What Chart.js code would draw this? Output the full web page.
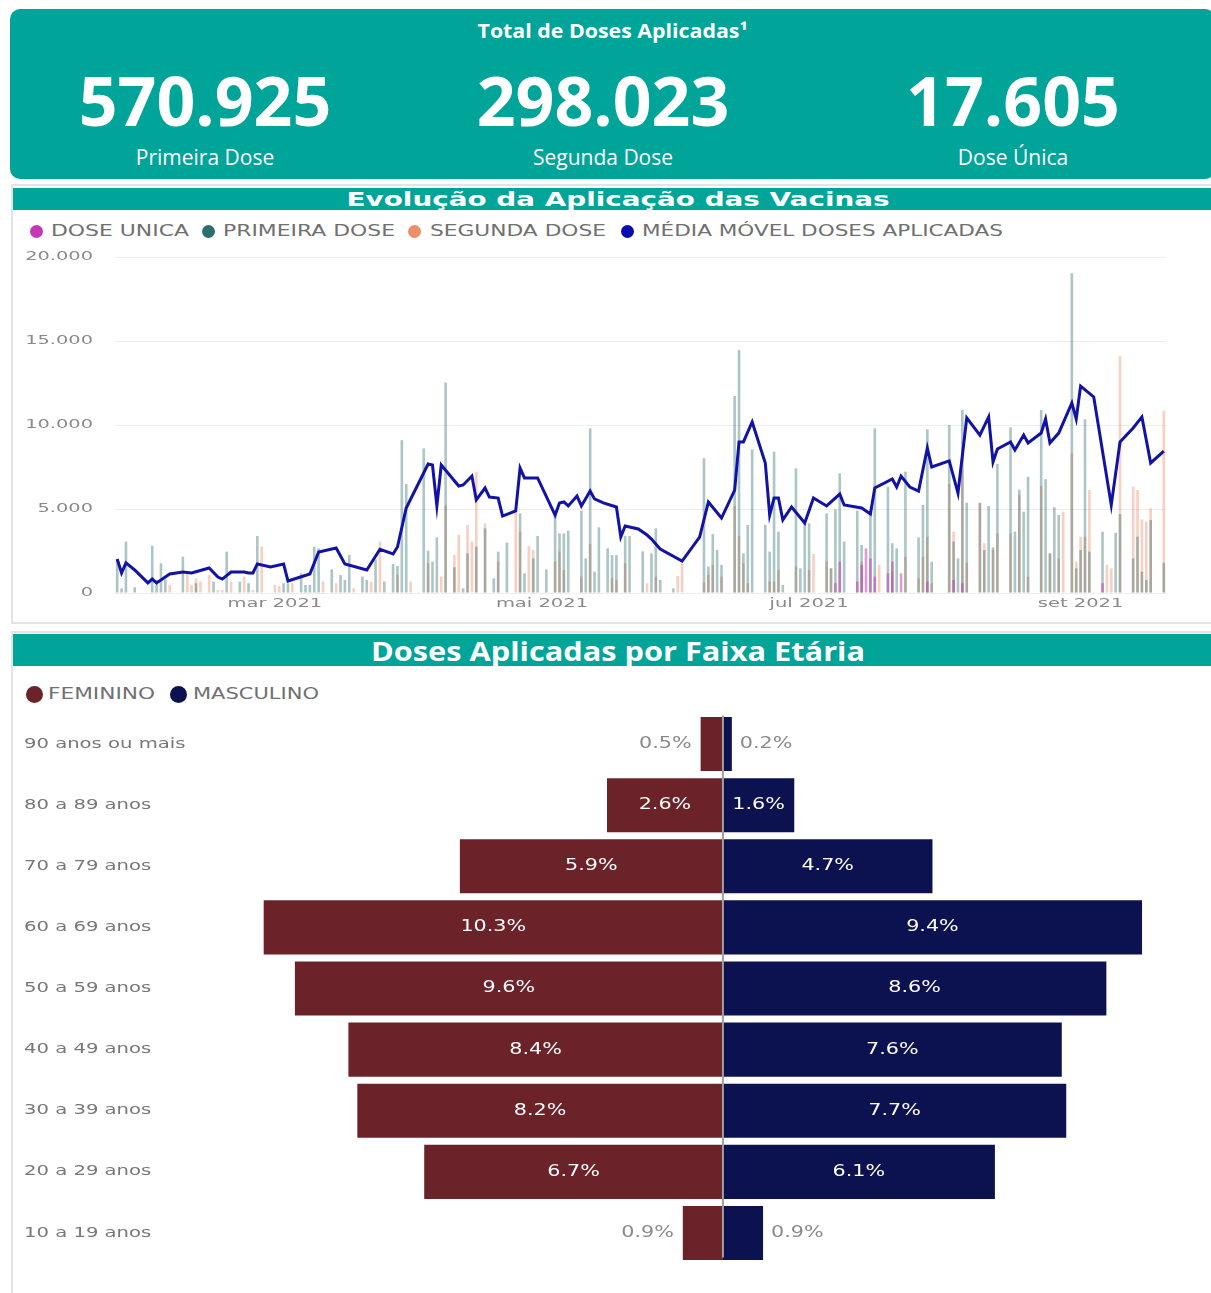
<!DOCTYPE html>
<html>
<head>
<meta charset="utf-8">
<script src="https://cdn.jsdelivr.net/npm/chart.js@4.4.0/dist/chart.umd.min.js"></script>
<style>
  body { margin: 0; width: 1211px; height: 1293px; background: #fff; position: relative; overflow: hidden; font-family: 'Open Sans', sans-serif; }
  .abs { position: absolute; }
  #kpi { left: 10px; top: 9px; width: 1205px; height: 170px; background: #00a499; border-radius: 10px; }
  .kpiTitle { left: 0; width: 100%; top: 11px; text-align: center; color: #fff; font-weight: 700; font-size: 20px; line-height: 22px; }
  .kpiNum { width: 400px; top: 57px; text-align: center; color: #fff; font-weight: 700; font-size: 68px; line-height: 68px; }
  .kpiLbl { width: 400px; top: 135px; text-align: center; color: #fff; font-size: 21px; line-height: 26px; }
  .panel { border: 2px solid #e4e4e4; box-sizing: border-box; }
  .bar { background: #00a499; color: #fff; text-align: center; font-weight: 700; white-space: nowrap; overflow: hidden; }
  .fit { display: inline-block; white-space: nowrap; transform-origin: center center; }
  .leg { font-family: 'DejaVu Sans', sans-serif; color: #707070; white-space: nowrap; transform-origin: left center; }
  .dot { border-radius: 50%; }
  canvas { z-index: 1; }
</style>
</head>
<body>
<div id="kpi" class="abs">
  <div class="abs kpiTitle"><span class="fit" data-w="270">Total de Doses Aplicadas¹</span></div>
  <div class="abs kpiNum" style="left:-5px">570.925</div>
  <div class="abs kpiNum" style="left:393px">298.023</div>
  <div class="abs kpiNum" style="left:803px">17.605</div>
  <div class="abs kpiLbl" style="left:-5px">Primeira Dose</div>
  <div class="abs kpiLbl" style="left:393px">Segunda Dose</div>
  <div class="abs kpiLbl" style="left:803px">Dose Única</div>
</div>

<div class="abs panel" style="left:11px;top:184px;width:1205px;height:440px"></div>
<div class="abs bar" style="left:13px;top:188px;width:1198px;height:22px;line-height:23px;font-family:'DejaVu Sans',sans-serif;font-size:20px;padding-left:12px;box-sizing:border-box"><span class="fit" data-w="543">Evolução da Aplicação das Vacinas</span></div>
<div id="legend1"></div>
<canvas id="evolucao" class="abs" style="left:14px;top:249px" width="1197" height="371"></canvas>

<div class="abs panel" style="left:11px;top:631px;width:1205px;height:670px"></div>
<div class="abs bar" style="left:13px;top:634px;width:1198px;height:32px;line-height:34px;font-size:27px;padding-left:12px;box-sizing:border-box"><span class="fit" data-w="494">Doses Aplicadas por Faixa Etária</span></div>
<div id="legend2"></div>
<canvas id="faixa" class="abs" style="left:14px;top:705px" width="1197" height="565"></canvas>

<script>
// ---- evolution chart data ----
const START_DAY = Date.UTC(2021, 0, 24);
const N_DAYS = 240;
const TICK_DATES = ['2021-03-01', '2021-05-01', '2021-07-01', '2021-09-01'];
const TICK_LABELS = ['mar 2021', 'mai 2021', 'jul 2021', 'set 2021'];

const SERIES_NAMES = ['DOSE UNICA', 'PRIMEIRA DOSE', 'SEGUNDA DOSE', 'MÉDIA MÓVEL DOSES APLICADAS'];
const SERIES_COLORS = ['#c637b4', '#2f6e6e', '#ee8d6a', '#0b0bb0'];

// [day offset from START_DAY, doses]
const DOSE_UNICA = [[164,580],[165,1860],[169,680],[170,1670],[171,2660],[172,2060],[173,980],[176,1170],
  [177,1870],[179,1170],[185,680],[191,780],[193,580],[225,580]];

const PRIMEIRA_DOSE = [[0,1980],[1,280],[2,3060],[4,340],[8,2820],[9,770],[10,1770],[11,810],[15,2160],
  [18,580],[22,680],[25,2460],[28,680],[30,580],[32,3390],[38,580],[39,580],[42,1170],[43,480],[44,480],
  [45,2760],[46,2660],[49,1410],[51,1070],[52,780],[53,2260],[56,980],[57,780],[59,2000],[61,680],
  [63,1730],[64,1610],[65,9100],[66,6490],[70,8610],[71,2520],[72,1870],[73,3310],[75,12520],[77,1530],
  [79,280],[80,2360],[82,2760],[84,3850],[86,870],[87,2460],[89,3000],[92,4740],[93,1170],[95,2060],
  [96,3390],[98,1410],[100,4740],[101,3550],[102,3550],[103,3710],[106,4900],[107,2060],[108,9800],
  [109,1270],[110,3910],[112,2660],[113,2260],[114,2260],[116,3390],[117,3390],[120,2480],[122,2360],
  [123,3850],[124,780],[127,280],[134,8020],[135,1570],[136,3510],[137,2560],[138,1670],[141,11730],
  [142,14460],[143,2360],[144,4050],[145,8550],[148,4050],[149,2460],[150,8410],[151,3650],[152,480],
  [155,7420],[156,1470],[157,4150],[158,4150],[162,4740],[163,1470],[164,4980],[165,7120],[166,3060],
  [169,4900],[170,2860],[172,4740],[173,9800],[176,6330],[177,2960],[178,2660],[180,7220],[183,3310],
  [184,5240],[185,9740],[186,1860],[190,10000],[191,3060],[192,2060],[193,10890],[194,5380],[197,5380],
  [198,2560],[199,5180],[200,2720],[201,7680],[204,9860],[205,3650],[206,6150],[207,4840],[208,6920],
  [211,10890],[212,6770],[213,2360],[214,5100],[215,4640],[218,19030],[219,1470],[220,2560],[221,10340],
  [222,2460],[225,3650],[228,3590],[229,4700],[232,2060],[233,3350],[234,1270],[235,780],[236,4340],[239,1800]];

const SEGUNDA_DOSE = [[12,480],[16,1170],[17,480],[18,870],[19,680],[21,1070],[23,180],[24,180],[26,680],
  [29,980],[31,180],[33,2760],[36,480],[37,420],[40,580],[47,680],[50,580],[54,280],[58,680],[60,3060],
  [64,1070],[67,680],[71,1770],[74,980],[75,5240],[77,2260],[78,3450],[80,4050],[81,3060],[82,7220],
  [84,4150],[87,1870],[91,4840],[92,3650],[94,2800],[95,2560],[100,1870],[101,2460],[102,1370],[106,980],
  [108,2920],[113,870],[114,770],[116,1770],[121,580],[123,970],[128,1010],[129,1770],[134,620],[135,1070],
  [136,1670],[138,980],[141,5180],[142,3390],[143,1770],[144,580],[149,680],[150,680],[151,1370],[155,1570],
  [158,1370],[159,2320],[162,1870],[163,1470],[170,1870],[174,1670],[177,1270],[180,2160],[183,880],
  [184,2160],[185,3350],[186,580],[190,6490],[191,3650],[193,7320],[194,1800],[197,5340],[198,2960],
  [200,2560],[201,3550],[204,3550],[206,5830],[208,970],[211,6370],[213,2360],[215,2060],[216,4840],
  [218,8310],[219,1870],[220,3350],[221,3350],[222,6130],[226,1670],[227,1470],[229,14100],[232,6330],
  [233,6130],[234,4380],[235,4250],[236,5040],[239,10850]];

const MEDIA_MOVEL = [[0,2020],[1,1190],[2,1790],[4,1370],[7,600],[8,830],[9,600],[12,1130],[15,1250],
  [17,1190],[21,1490],[23,950],[24,830],[26,1250],[29,1250],[30,1190],[31,1190],[32,1730],[35,1550],
  [38,1730],[39,715],[44,1130],[46,2440],[50,2680],[52,1730],[57,1370],[60,2600],[63,2320],[64,2740],
  [66,5060],[71,7680],[72,7620],[73,5180],[74,7620],[78,6370],[79,6430],[81,6960],[82,5540],[84,6250],
  [85,5710],[87,5650],[88,4580],[91,4880],[92,7440],[93,6850],[96,6850],[100,4640],[101,5360],[102,5420],
  [103,5180],[105,5770],[106,5180],[108,6070],[109,5600],[111,5360],[114,5120],[115,3330],[116,3990],
  [119,3810],[121,3450],[122,3210],[124,2620],[129,1900],[133,3330],[135,5420],[138,4460],[141,6130],
  [142,8990],[143,8990],[145,10180],[148,7740],[149,4640],[150,5650],[151,5650],[152,4350],[154,5120],
  [157,4170],[159,5650],[162,5180],[165,5890],[166,5240],[170,5060],[172,4700],[173,6250],[177,6790],
  [178,6310],[179,6960],[181,6310],[183,6070],[185,8630],[186,7500],[190,7860],[192,5950],[194,10420],
  [197,9400],[199,10480],[200,7800],[201,8570],[204,8990],[205,8510],[207,9400],[208,8930],[211,9520],
  [212,10360],[213,8930],[215,9520],[218,11310],[219,10360],[220,12320],[223,11670],[227,5240],[229,8990],
  [232,9820],[234,10480],[236,7740],[239,8450]];

// ---- age pyramid data ----
const FAIXAS = ['90 anos ou mais', '80 a 89 anos', '70 a 79 anos', '60 a 69 anos', '50 a 59 anos',
  '40 a 49 anos', '30 a 39 anos', '20 a 29 anos', '10 a 19 anos'];
const FEMININO = [0.5, 2.6, 5.9, 10.3, 9.6, 8.4, 8.2, 6.7, 0.9];
const MASCULINO = [0.2, 1.6, 4.7, 9.4, 8.6, 7.6, 7.7, 6.1, 0.9];
const SEXO_NAMES = ['FEMININO', 'MASCULINO'];
const SEXO_COLORS = ['#6b2329', '#0c1250'];

// ---- helpers ----
function dayLabels() {
    const out = [];
    for (let i = 0; i < N_DAYS; i++) {
        out.push(new Date(START_DAY + i * 86400000).toISOString().slice(0, 10));
    }
    return out;
}

function daily(pairs) {
    const arr = new Array(N_DAYS).fill(null);
    pairs.forEach(([d, v]) => { arr[d] = v; });
    return arr;
}

function alpha(hex, a) {
    const n = parseInt(hex.slice(1), 16);
    return `rgba(${n >> 16}, ${(n >> 8) & 255}, ${n & 255}, ${a})`;
}

// the dashboard text is horizontally stretched, so squeeze/stretch to a target width
function fitWidth(el, w) {
    const natural = el.getBoundingClientRect().width;
    el.style.transform = `scaleX(${w / natural})`;
}

function buildLegend(id, names, colors, dotX, textX, textW, y, dot, font) {
    const host = document.getElementById(id);
    names.forEach((name, i) => {
        const d = document.createElement('div');
        d.className = 'abs dot';
        d.style.cssText = `left:${dotX[i] - dot / 2}px;top:${y - dot / 2}px;width:${dot}px;height:${dot}px;background:${colors[i]}`;
        host.appendChild(d);
        const t = document.createElement('div');
        t.className = 'abs leg';
        t.textContent = name;
        t.style.cssText = `left:${textX[i]}px;top:${y - 10}px;line-height:20px;font-size:${font}px`;
        host.appendChild(t);
        fitWidth(t, textW[i]);
    });
}

function stretchedText(ctx, text, x, y, align, sx) {
    ctx.save();
    ctx.translate(x, y);
    ctx.scale(sx, 1);
    ctx.textAlign = align;
    ctx.textBaseline = 'middle';
    ctx.fillText(text, 0, 0);
    ctx.restore();
}

document.querySelectorAll('.fit').forEach(el => fitWidth(el, +el.dataset.w));
buildLegend('legend1', SERIES_NAMES, SERIES_COLORS, [36, 208, 414, 627], [51, 223, 430, 642], [138, 172, 176, 361], 231, 13, 15);
buildLegend('legend2', SEXO_NAMES, SEXO_COLORS, [34, 178], [48, 193], [107, 126], 694, 17, 16);

// ---- evolution chart ----
const labels = dayLabels();

const evoTicks = {
    id: 'evoTicks',
    afterDraw(chart) {
        const ctx = chart.ctx;
        const ys = chart.scales.y, xs = chart.scales.x;
        ctx.save();
        ctx.fillStyle = '#8a8a8a';
        ctx.font = '12.5px "DejaVu Sans"';
        ys.ticks.forEach(t => {
            stretchedText(ctx, t.value.toLocaleString('pt-BR'), ys.right - 22, ys.getPixelForValue(t.value), 'right', 1.55);
        });
        ctx.font = '13px "DejaVu Sans"';
        TICK_DATES.forEach((d, i) => {
            stretchedText(ctx, TICK_LABELS[i], xs.getPixelForValue(labels.indexOf(d)), xs.top + 11, 'center', 1.5);
        });
        ctx.restore();
    }
};

new Chart(document.getElementById('evolucao'), {
    data: {
        labels: labels,
        datasets: [
            {
                type: 'line', label: SERIES_NAMES[3], data: daily(MEDIA_MOVEL), order: 0,
                borderColor: '#1212a6', borderWidth: 3, pointRadius: 0, tension: 0, spanGaps: true
            },
            {
                type: 'bar', label: SERIES_NAMES[0], data: daily(DOSE_UNICA), order: 1,
                backgroundColor: alpha(SERIES_COLORS[0], 0.5)
            },
            {
                type: 'bar', label: SERIES_NAMES[1], data: daily(PRIMEIRA_DOSE), order: 1,
                backgroundColor: alpha(SERIES_COLORS[1], 0.4)
            },
            {
                type: 'bar', label: SERIES_NAMES[2], data: daily(SEGUNDA_DOSE), order: 1,
                backgroundColor: alpha(SERIES_COLORS[2], 0.42)
            }
        ]
    },
    options: {
        responsive: false,
        animation: false,
        layout: { padding: { top: 8, right: 45, left: 0, bottom: 0 } },
        datasets: { bar: { grouped: false, barPercentage: 0.6, categoryPercentage: 1 } },
        plugins: { legend: { display: false }, tooltip: { enabled: false } },
        scales: {
            x: {
                offset: true,
                grid: { display: false, drawTicks: false },
                border: { display: false },
                ticks: { display: false },
                afterFit: (s) => { s.height = 27; }
            },
            y: {
                min: 0, max: 20000,
                grid: { color: '#ededed', drawTicks: false },
                border: { display: false },
                ticks: { display: false, stepSize: 5000 },
                afterFit: (s) => { s.width = 101; }
            }
        }
    },
    plugins: [evoTicks]
});

// ---- age pyramid ----
const pyramidLabels = {
    id: 'pyramidLabels',
    afterDatasetsDraw(chart) {
        const ctx = chart.ctx;
        const ys = chart.scales.y;
        const values = [FEMININO, MASCULINO];
        ctx.save();
        const x0 = chart.scales.x.getPixelForValue(0);
        ctx.strokeStyle = '#a0a0a0';
        ctx.lineWidth = 2;
        ctx.beginPath();
        ctx.moveTo(x0, chart.chartArea.top + 2);
        ctx.lineTo(x0, chart.chartArea.bottom - 6);
        ctx.stroke();

        ctx.font = '14px "DejaVu Sans"';
        ctx.fillStyle = '#777';
        FAIXAS.forEach((f, i) => stretchedText(ctx, f, ys.left, ys.getPixelForValue(i), 'left', 1.4));

        ctx.font = '15px "DejaVu Sans"';
        [0, 1].forEach((di) => {
            chart.getDatasetMeta(di).data.forEach((bar, i) => {
                const txt = values[di][i].toFixed(1) + '%';
                const w = Math.abs(bar.x - bar.base);
                if (w > 60) {
                    ctx.fillStyle = '#ffffff';
                    stretchedText(ctx, txt, (bar.x + bar.base) / 2, bar.y, 'center', 1.38);
                } else if (di === 0) {
                    ctx.fillStyle = '#8a8a8a';
                    stretchedText(ctx, txt, bar.x - 9, bar.y, 'right', 1.38);
                } else {
                    ctx.fillStyle = '#8a8a8a';
                    stretchedText(ctx, txt, bar.x + 8, bar.y, 'left', 1.38);
                }
            });
        });
        ctx.restore();
    }
};

new Chart(document.getElementById('faixa'), {
    type: 'bar',
    data: {
        labels: FAIXAS,
        datasets: [
            { label: SEXO_NAMES[0], data: FEMININO.map(v => -v), backgroundColor: SEXO_COLORS[0] },
            { label: SEXO_NAMES[1], data: MASCULINO, backgroundColor: SEXO_COLORS[1] }
        ]
    },
    options: {
        indexAxis: 'y',
        responsive: false,
        animation: false,
        layout: { padding: { top: 8.5, bottom: 6.5, left: 10, right: 11 } },
        datasets: { bar: { barPercentage: 1, categoryPercentage: 0.885 } },
        plugins: { legend: { display: false }, tooltip: { enabled: false } },
        scales: {
            x: { display: false, stacked: true, min: -11.28, max: 10.7 },
            y: {
                stacked: true,
                grid: { display: false, drawTicks: false },
                border: { display: false },
                ticks: { display: false },
                afterFit: (s) => { s.width = 196; }
            }
        }
    },
    plugins: [pyramidLabels]
});
</script>
</body>
</html>
